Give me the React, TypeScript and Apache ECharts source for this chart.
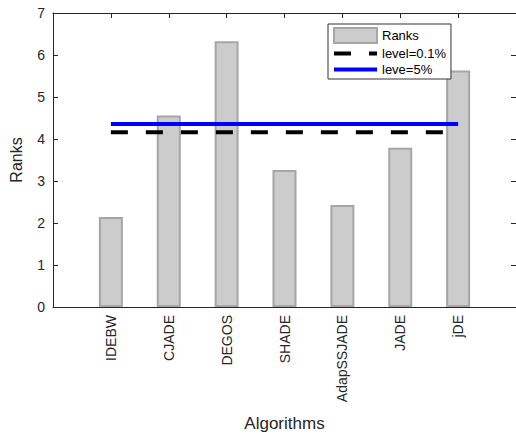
import React, { useEffect, useRef } from "react";
import * as echarts from "echarts";

const categories = ["IDEBW", "CJADE", "DEGOS", "SHADE", "AdapSSJADE", "JADE", "jDE"];
const ranks = [2.14, 4.56, 6.33, 3.26, 2.43, 3.79, 5.63];
const level01 = 4.16;
const level5 = 4.36;
const yTicks = [0, 1, 2, 3, 4, 5, 6, 7];

const FONT = "'Liberation Sans', Arial, Helvetica, sans-serif";

export default function App() {
  const ref = useRef<HTMLDivElement>(null);
  useEffect(() => {
    if (!ref.current) return;
    const chart = echarts.init(ref.current, undefined, { renderer: "svg" });
    const xs = categories.map((_, i) => i + 1);
    const barData = xs.map((x, i) => [x, ranks[i]]);
    const first = xs[0];
    const last = xs[xs.length - 1];
    const axisColor = "#262626";
    const hiddenSymbol = { color: "rgba(0,0,0,0)", borderWidth: 0, opacity: 0 };
    chart.setOption({
      animation: false,
      backgroundColor: "#ffffff",
      textStyle: { fontFamily: FONT },
      grid: { left: 50, top: 13, width: 470, height: 301, containLabel: false },
      legend: {
        orient: "vertical",
        left: 328,
        top: 24,
        padding: [3, 5, 3, 4],
        itemGap: 3,
        itemWidth: 43,
        itemHeight: 15,
        backgroundColor: "#ffffff",
        borderColor: "#333333",
        borderWidth: 1,
        borderRadius: 0,
        textStyle: { fontSize: 13, color: "#000", fontFamily: FONT },
        data: [
          { name: "Ranks", icon: "rect", itemStyle: { color: "#cccccc", borderColor: "#a6a6a6", borderWidth: 2 } },
          { name: "level=0.1%", itemStyle: hiddenSymbol, lineStyle: { color: "#000000", width: 4, type: [17, 18] } },
          { name: "leve=5%", itemStyle: hiddenSymbol, lineStyle: { color: "#0000ff", width: 4, type: "solid" } },
        ],
      },
      xAxis: [
        {
          type: "value",
          min: 0,
          max: categories.length + 1,
          interval: 1,
          name: "Algorithms",
          nameLocation: "middle",
          nameGap: 108,
          nameTextStyle: { fontSize: 17, color: "#262626", fontFamily: FONT },
          axisLine: { show: true, onZero: false, lineStyle: { color: axisColor, width: 1 } },
          axisTick: { show: true, inside: true, length: 5, lineStyle: { color: axisColor } },
          splitLine: { show: false },
          axisLabel: {
            rotate: 90,
            margin: 8,
            fontSize: 14,
            color: "#262626",
            fontFamily: FONT,
            formatter: (v: number) => (v >= 1 && v <= categories.length ? categories[v - 1] : ""),
          },
        },
        {
          type: "value",
          position: "top",
          min: 0,
          max: categories.length + 1,
          interval: 1,
          axisLine: { show: true, onZero: false, lineStyle: { color: axisColor, width: 1 } },
          axisTick: { show: true, inside: true, length: 5, lineStyle: { color: axisColor } },
          splitLine: { show: false },
          axisLabel: { show: false },
        },
      ],
      yAxis: [
        {
          type: "value",
          min: yTicks[0],
          max: yTicks[yTicks.length - 1],
          interval: 1,
          name: "Ranks",
          nameLocation: "middle",
          nameGap: 29,
          nameTextStyle: { fontSize: 16, color: "#262626", fontFamily: FONT },
          axisLine: { show: true, onZero: false, lineStyle: { color: axisColor, width: 1 } },
          axisTick: { show: true, inside: true, length: 5, lineStyle: { color: axisColor } },
          splitLine: { show: false },
          axisLabel: { margin: 8, fontSize: 14, color: "#262626", fontFamily: FONT },
        },
        {
          type: "value",
          position: "right",
          min: yTicks[0],
          max: yTicks[yTicks.length - 1],
          interval: 1,
          axisLine: { show: true, onZero: false, lineStyle: { color: axisColor, width: 1 } },
          axisTick: { show: true, inside: true, length: 5, lineStyle: { color: axisColor } },
          splitLine: { show: false },
          axisLabel: { show: false },
        },
      ],
      series: [
        {
          name: "Ranks",
          type: "bar",
          data: barData,
          barWidth: 24,
          itemStyle: { color: "#cccccc", borderColor: "#a6a6a6", borderWidth: 2 },
          z: 2,
        },
        {
          name: "level=0.1%",
          type: "line",
          data: [[first, level01], [last, level01]],
          symbol: "none",
          lineStyle: { color: "#000000", width: 4, type: [17, 18] },
          itemStyle: { color: "#000000" },
          z: 3,
        },
        {
          name: "leve=5%",
          type: "line",
          data: [[first, level5], [last, level5]],
          symbol: "none",
          lineStyle: { color: "#0000ff", width: 4 },
          itemStyle: { color: "#0000ff" },
          z: 3,
        },
      ],
    });
    return () => chart.dispose();
  }, []);
  return <div ref={ref} style={{ width: 516, height: 437, position: "absolute", left: 0, top: 0 }} />;
}
